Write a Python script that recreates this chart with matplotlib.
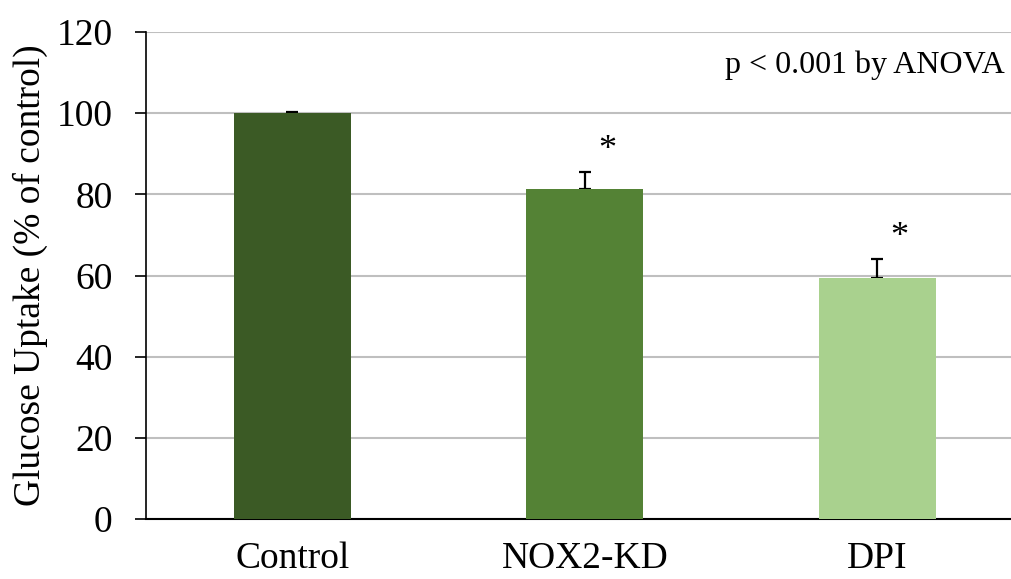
import matplotlib

matplotlib.use("Agg")
import matplotlib.pyplot as plt

categories = ["Control", "NOX2-KD", "DPI"]
uptake = [100.0, 81.3, 59.4]
sem = [0.3, 4.2, 4.6]
significant = [False, True, True]
bar_colors = ["#3b5a25", "#548235", "#a9d18e"]
y_ticks = [0, 20, 40, 60, 80, 100, 120]

plt.rcParams["font.family"] = ["Liberation Serif", "DejaVu Serif"]

fig = plt.figure(figsize=(10.12, 5.79), dpi=100)
ax = fig.add_axes([0.1443, 0.1036, 0.8557, 0.8411])

x = range(len(categories))
ax.bar(x, uptake, width=0.4, color=bar_colors, zorder=3)
# upper-only error bars; drawn under the bars so the lower cap is hidden
ax.errorbar(
    x,
    uptake,
    yerr=[[0] * len(sem), sem],
    fmt="none",
    ecolor="black",
    elinewidth=1.6,
    capsize=4.3,
    capthick=1.6,
    zorder=2,
)

for xi, val, err, sig in zip(x, uptake, sem, significant):
    if sig:
        ax.text(xi + 0.075, val + err + 1.2, "*", ha="center", va="bottom",
                fontsize=26)

ax.text(0.992, 0.916, "p < 0.001 by ANOVA", transform=ax.transAxes,
        ha="right", va="baseline", fontsize=23)

ax.set_xlim(-0.5, 2.46)
ax.set_ylim(0, 120)
ax.set_yticks(y_ticks)
ax.tick_params(axis="y", labelsize=27, length=8, width=1.2, direction="out",
               pad=16)
ax.set_xticks(list(x))
ax.set_xticklabels(categories)
ax.tick_params(axis="x", labelsize=27, length=0, pad=16)
ax.set_ylabel("Glucose Uptake (% of control)", fontsize=27, labelpad=6)

ax.yaxis.grid(True, color="#bfbfbf", linewidth=1.5, zorder=0)
ax.set_axisbelow(True)
for side in ["top", "right"]:
    ax.spines[side].set_visible(False)
ax.spines["left"].set_linewidth(1.2)
ax.spines["bottom"].set_linewidth(1.5)

fig.savefig("out.png", dpi=100)
